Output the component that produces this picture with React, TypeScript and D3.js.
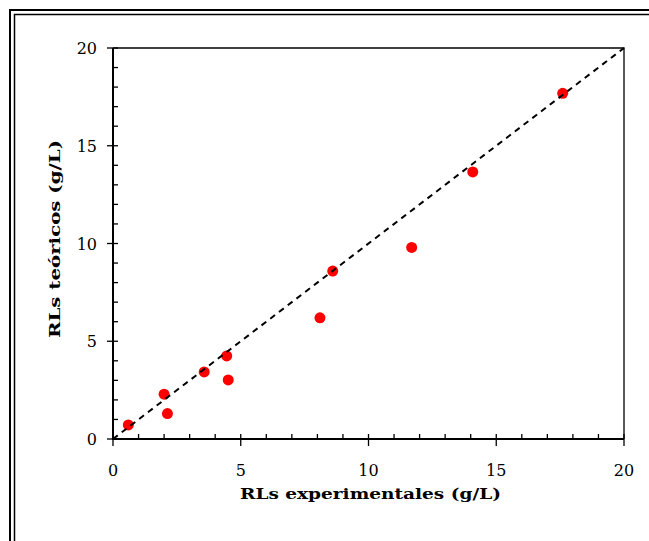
import React from "react";
import * as d3 from "d3";

const expValues = [0.6, 2.0, 2.13, 3.57, 4.45, 4.51, 8.1, 8.6, 11.69, 14.08, 17.6];
const teoValues = [0.72, 2.29, 1.3, 3.43, 4.25, 3.02, 6.2, 8.59, 9.8, 13.66, 17.68];
const majorTicks = [0, 5, 10, 15, 20];
const minorTicks = d3.range(0, 21, 1).filter((v) => v % 5 !== 0);
const lineEnds = [0, 20];
const xTitle = "RLs experimentales (g/L)";
const yTitle = "RLs teóricos (g/L)";

export default function App() {
  const W = 649;
  const H = 541;
  const left = 113, right = 624, top = 48, bottom = 439;
  const x = d3.scaleLinear().domain([0, 20]).range([left, right]);
  const y = d3.scaleLinear().domain([0, 20]).range([bottom, top]);
  const pts = expValues.map((v, i) => [v, teoValues[i]] as [number, number]);
  const line = d3.line<number>().x((d) => x(d)).y((d) => y(d));
  const font = "'DejaVu Serif', serif";
  return (
    <svg width={W} height={H} style={{ position: "absolute", left: 0, top: 0, background: "#fff" }}>
      <rect x={0} y={0} width={W} height={H} fill="#fff" />
      {/* frame */}
      <path d={`M10,${H} V10 H${W}`} fill="none" stroke="#000" strokeWidth={2} />
      <path d={`M14.5,${H} V14.5 H${W}`} fill="none" stroke="#000" strokeWidth={1.5} />
      {/* plot box top/right */}
      <path d={`M${left},${top} H${right} V${bottom}`} fill="none" stroke="#000" strokeWidth={1.3} />
      {/* axes */}
      <line x1={left} x2={left} y1={top} y2={bottom + 1} stroke="#000" strokeWidth={2} />
      <line x1={left - 1} x2={right} y1={bottom} y2={bottom} stroke="#000" strokeWidth={2} />
      {/* y ticks */}
      {majorTicks.map((t) => (
        <line key={"ym" + t} x1={left - 6} x2={left + 5} y1={y(t)} y2={y(t)} stroke="#000" strokeWidth={1.3} />
      ))}
      {minorTicks.map((t) => (
        <line key={"yn" + t} x1={left} x2={left + 5} y1={y(t)} y2={y(t)} stroke="#000" strokeWidth={1.3} />
      ))}
      {/* x ticks */}
      {majorTicks.map((t) => (
        <line key={"xm" + t} x1={x(t)} x2={x(t)} y1={bottom - 5} y2={bottom + 7} stroke="#000" strokeWidth={1.3} />
      ))}
      {minorTicks.map((t) => (
        <line key={"xn" + t} x1={x(t)} x2={x(t)} y1={bottom - 5} y2={bottom} stroke="#000" strokeWidth={1.3} />
      ))}
      {/* tick labels */}
      {majorTicks.map((t) => (
        <text key={"yl" + t} x={left - 16} y={y(t) + 6} textAnchor="end" fontFamily={font} fontSize={16} fill="#000">
          {t}
        </text>
      ))}
      {majorTicks.map((t) => (
        <text key={"xl" + t} x={x(t)} y={476} textAnchor="middle" fontFamily={font} fontSize={16} fill="#000">
          {t}
        </text>
      ))}
      {/* titles */}
      <text x={370.5} y={499} textAnchor="middle" fontFamily={font} fontWeight="bold" fontSize={15} textLength={261} lengthAdjust="spacingAndGlyphs" fill="#000">
        {xTitle}
      </text>
      <text transform={`translate(60,239) rotate(-90)`} textAnchor="middle" fontFamily={font} fontWeight="bold" fontSize={15} textLength={198} lengthAdjust="spacingAndGlyphs" fill="#000">
        {yTitle}
      </text>
      {/* points */}
      {pts.map((p, i) => (
        <circle key={i} cx={x(p[0])} cy={y(p[1])} r={5.5} fill="#ff0000" />
      ))}
      {/* 1:1 line */}
      <path d={line(lineEnds) || ""} fill="none" stroke="#000" strokeWidth={2} strokeDasharray="6,5" />
    </svg>
  );
}
